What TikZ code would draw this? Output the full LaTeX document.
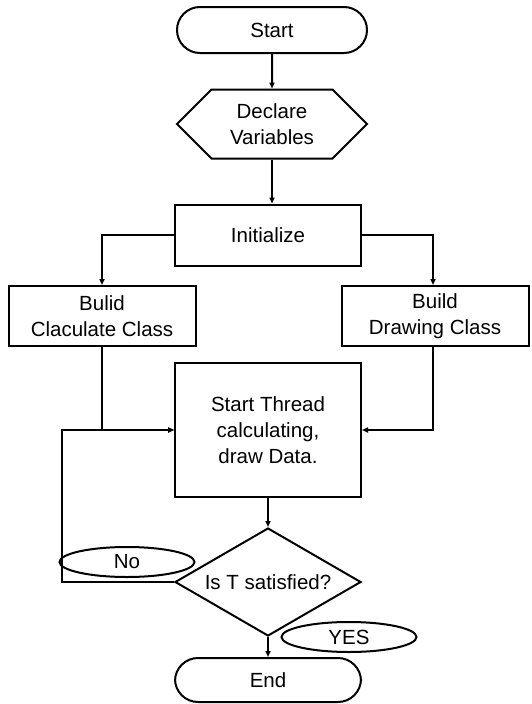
\documentclass[tikz,border=0pt]{standalone}
\usepackage{fontspec}
\setmainfont{Liberation Sans}
\usetikzlibrary{shapes.geometric,shapes.symbols,arrows.meta,calc}
\begin{document}
\begin{tikzpicture}[x=1pt,y=-1pt,line width=2pt,
  every node/.style={font=\fontsize{20.5}{26}\selectfont,align=center,inner sep=0pt},
  term/.style={draw,rounded corners=23pt,minimum width=190,minimum height=46},
  prep/.style={draw,signal,signal to=west and east,signal pointer angle=90,minimum width=190,minimum height=69},
  proc/.style={draw,rectangle,minimum width=186,minimum height=61},
  dec/.style={draw,diamond,aspect=1.72,minimum width=186,minimum height=108},
  tag/.style={draw,ellipse,minimum width=135,minimum height=30},
  arr/.style={-{Triangle[length=6pt,width=5pt]}}]
\useasboundingbox (0,0) rectangle (531,704);
\node[term] (start) at (272,30) {Start};
\node[prep] (decl) at (272,124) {Declare\\Variables};
\node[proc] (init) at (268,235) {Initialize};
\node[proc,minimum width=187,minimum height=60] (calc) at (102,316) {Bulid\\Claculate Class};
\node[proc,minimum width=187,minimum height=60] (draw) at (435,316) {Build\\Drawing Class};
\node[proc,minimum height=134] (thread) at (268,430) {Start Thread\\calculating,\\draw Data.};
\node[dec] (test) at (268,582) {Is T satisfied?};
\node[term,minimum width=186,minimum height=44] (end) at (268,680) {End};
\node[tag] (no) at (127,562) {No};
\node[tag] (yes) at (349,637) {YES};
\coordinate (loop) at (62,430);
%\draw (0,0) rectangle (531,704);
\draw[arr] (start) -- (decl);
\draw[arr] (decl.south) -- (decl.south |- init.north);
\draw[arr] (init.west) -| (calc.north);
\draw[arr] (init.east) -| ([xshift=-2]draw.north);
\draw[arr] (calc.south) |- (thread.west);
\draw[arr] ([xshift=-2]draw.south) |- (thread.east);
\draw[arr] (thread.south) -- (test.north);
\draw[arr] (test.west) -| (loop) -- (thread.west);
\draw[arr] (test.south) -- (end.north);
\end{tikzpicture}
\end{document}
